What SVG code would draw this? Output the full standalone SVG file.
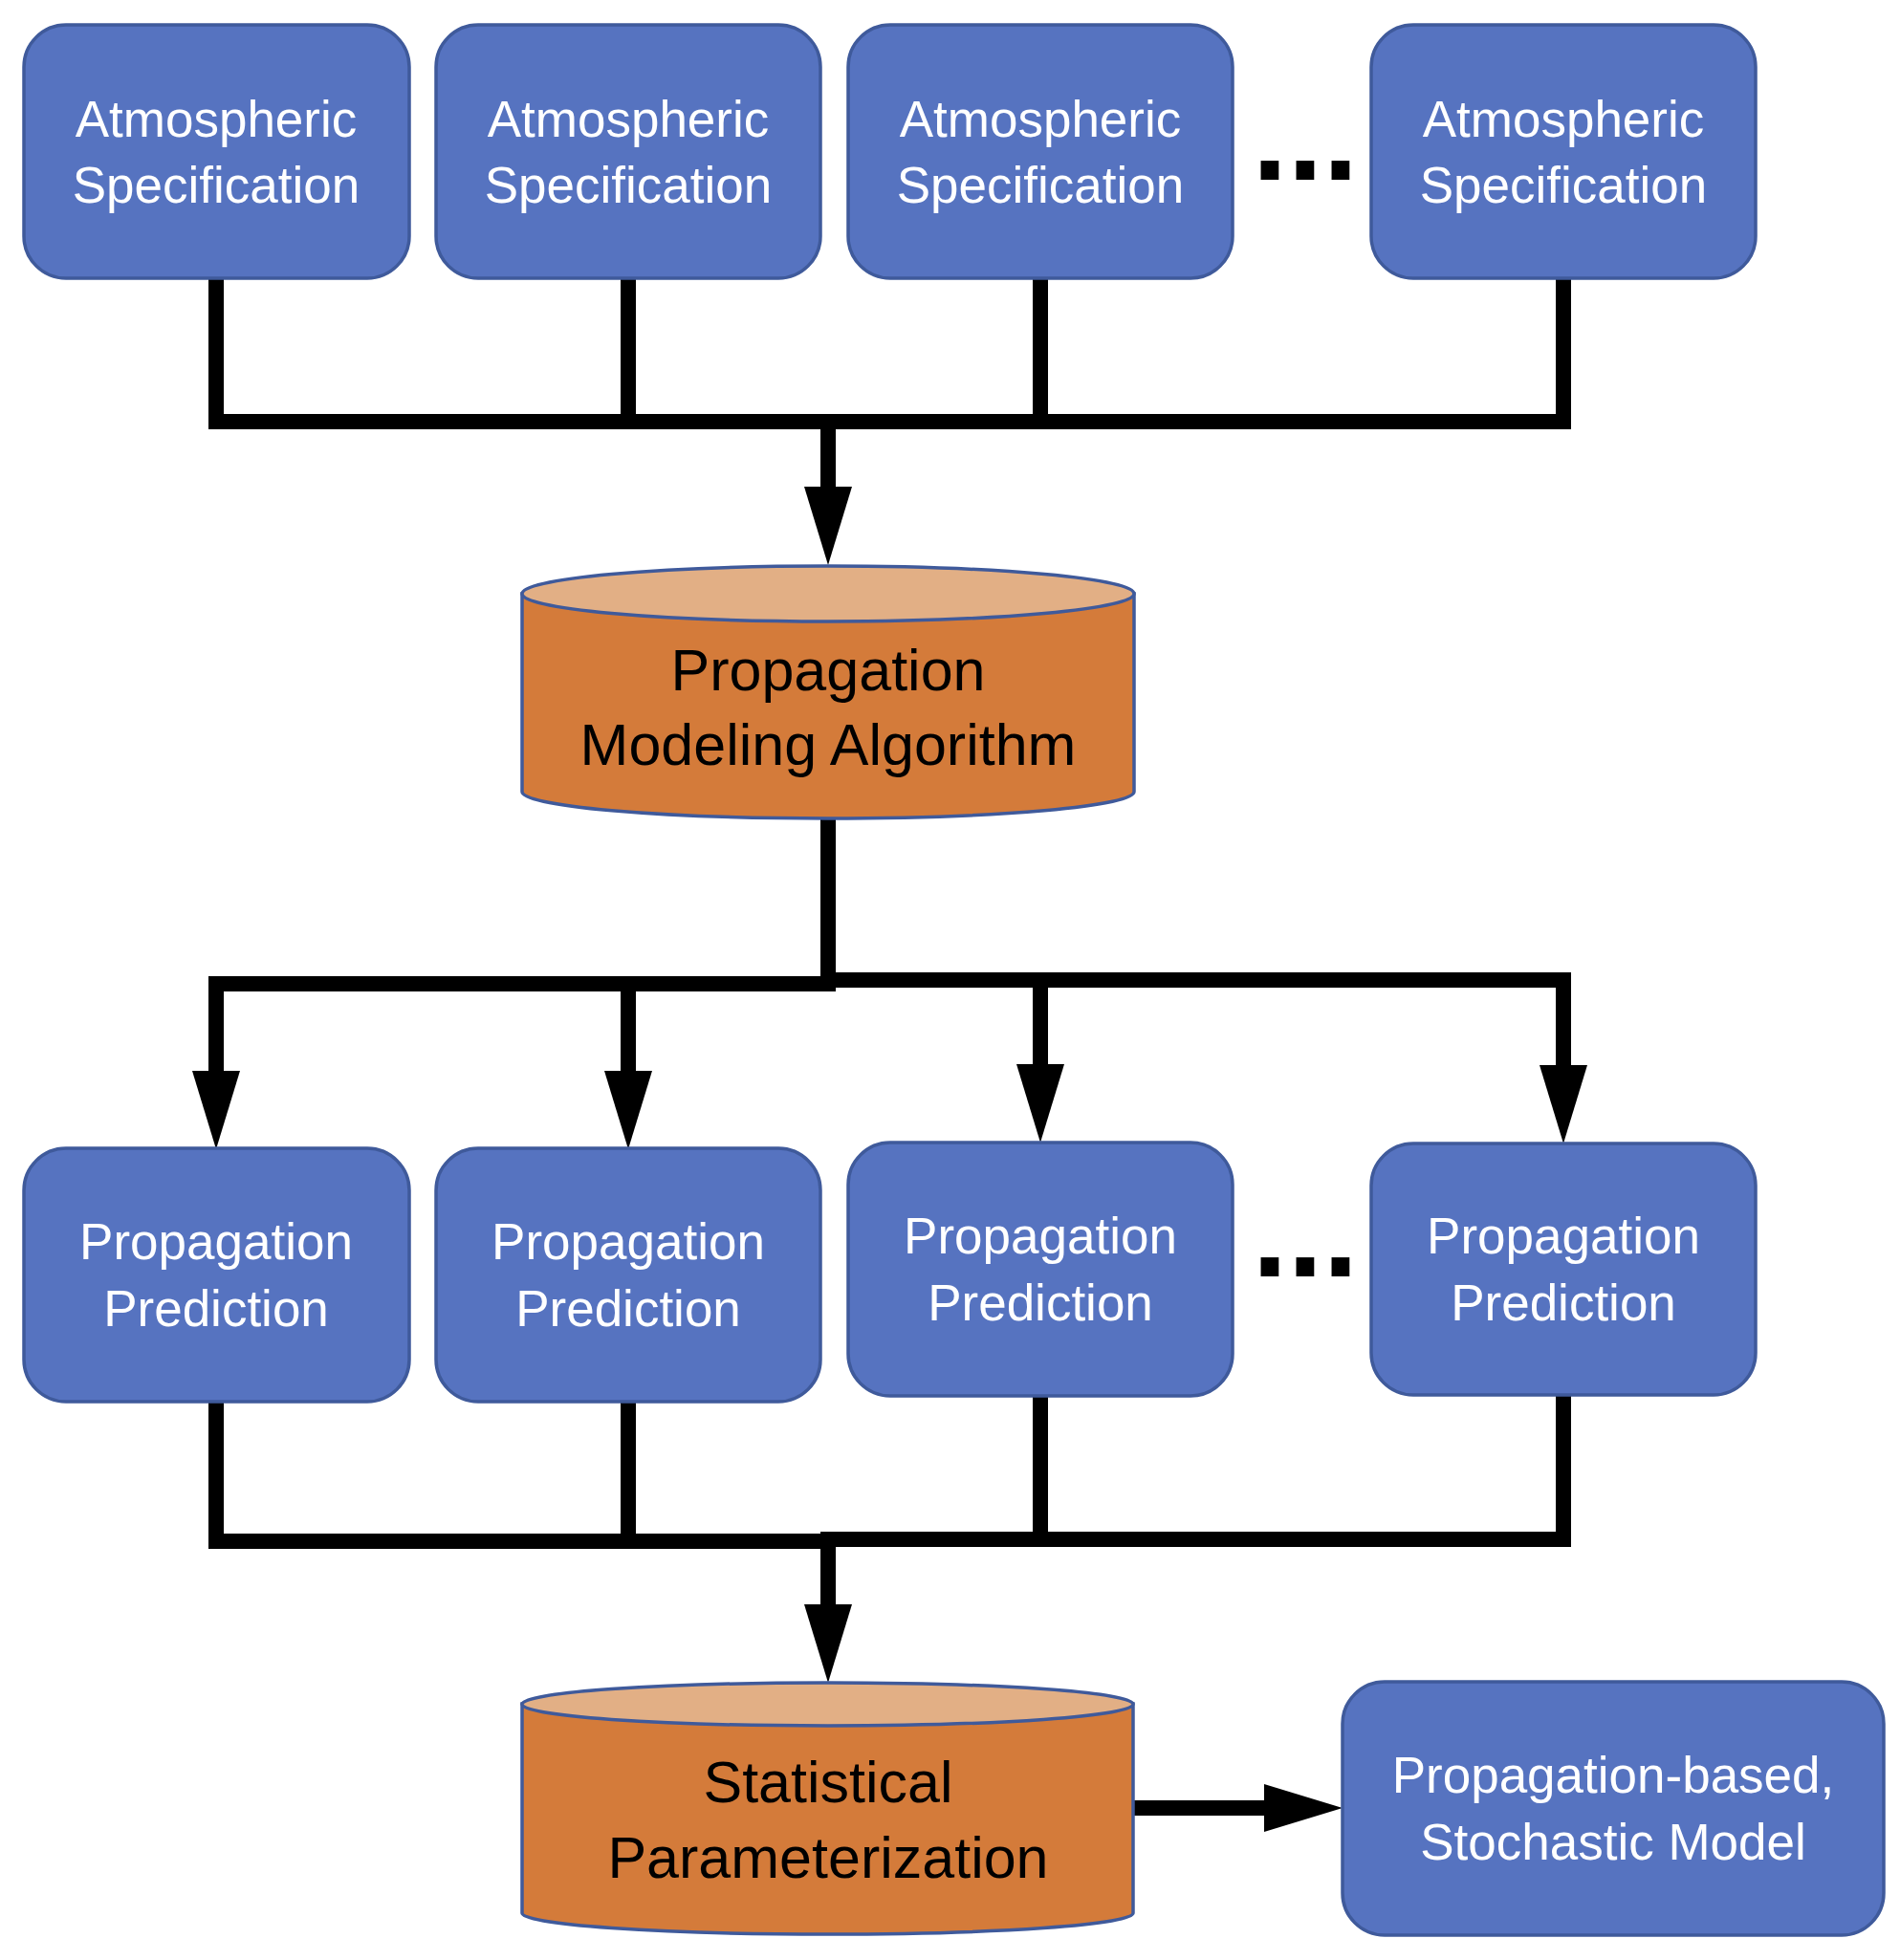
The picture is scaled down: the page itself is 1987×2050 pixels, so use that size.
<svg xmlns="http://www.w3.org/2000/svg" width="1987" height="2050" viewBox="0 0 1987 2050">
<style>
.box{fill:#5673C0;stroke:#3F5A9B;stroke-width:3.5}
.cyl{fill:#D47B3A;stroke:#3F5A9B;stroke-width:3.5}
.cyltop{fill:#E2AF85;stroke:#3F5A9B;stroke-width:3.5}
.wt{font-family:"Liberation Sans",Arial,sans-serif;font-size:53px;fill:#FFFFFF;text-anchor:middle}
.bt{font-family:"Liberation Sans",Arial,sans-serif;font-size:61px;fill:#000000;text-anchor:middle}
.dots{font-family:"Liberation Sans",Arial,sans-serif;font-size:133px;font-weight:bold;fill:#000000;text-anchor:middle}
.ln{fill:none;stroke:#000000;stroke-width:16;stroke-linejoin:miter;stroke-linecap:butt}
</style>
<defs>
<marker id="ah" viewBox="0 0 82 50" markerUnits="userSpaceOnUse" markerWidth="82" markerHeight="50" refX="0" refY="25" orient="auto">
<path d="M0,0 L82,25 L0,50 Z" fill="#000000"/>
</marker>
</defs>
<rect width="1987" height="2050" fill="#FFFFFF"/>
<g id="connectors">
<path class="ln" d="M226,289 V441 H1635 V289"/>
<path class="ln" d="M657,289 V441"/>
<path class="ln" d="M1088,289 V441"/>
<path class="ln" d="M866,441 V509" marker-end="url(#ah)"/>
<path class="ln" d="M866,854 V1029"/>
<path class="ln" d="M226,1120 V1029 H874"/>
<path class="ln" d="M858,1025 H1635 V1113"/>
<path class="ln" d="M226,1029 V1120" marker-end="url(#ah)"/>
<path class="ln" d="M657,1029 V1120" marker-end="url(#ah)"/>
<path class="ln" d="M1088,1025 V1113" marker-end="url(#ah)"/>
<path class="ln" d="M1635,1025 V1114" marker-end="url(#ah)"/>
<path class="ln" d="M226,1464 V1612 H866"/>
<path class="ln" d="M657,1464 V1612"/>
<path class="ln" d="M858,1610 H1635 V1456"/>
<path class="ln" d="M1088,1458 V1610"/>
<path class="ln" d="M866,1610 V1678" marker-end="url(#ah)"/>
<path class="ln" d="M1184,1891 H1322" marker-end="url(#ah)"/>
</g>
<g id="atm1">
<rect class="box" x="25" y="26" width="403" height="265" rx="44"/>
<text class="wt" x="226" y="143">Atmospheric</text>
<text class="wt" x="226" y="212">Specification</text>
</g>
<g id="atm2">
<rect class="box" x="456" y="26" width="402" height="265" rx="44"/>
<text class="wt" x="657" y="143">Atmospheric</text>
<text class="wt" x="657" y="212">Specification</text>
</g>
<g id="atm3">
<rect class="box" x="887" y="26" width="402" height="265" rx="44"/>
<text class="wt" x="1088" y="143">Atmospheric</text>
<text class="wt" x="1088" y="212">Specification</text>
</g>
<g id="dots1">
<text class="dots" x="1365" y="188">...</text>
</g>
<g id="atm4">
<rect class="box" x="1434" y="26" width="402" height="265" rx="44"/>
<text class="wt" x="1635" y="143">Atmospheric</text>
<text class="wt" x="1635" y="212">Specification</text>
</g>
<g id="pma">
<path class="cyl" d="M546,621 V828 A320,28 0 0 0 1186,828 V621 Z"/>
<ellipse class="cyltop" cx="866" cy="621" rx="320" ry="29"/>
<text class="bt" x="866" y="722">Propagation</text>
<text class="bt" x="866" y="800">Modeling Algorithm</text>
</g>
<g id="pred1">
<rect class="box" x="25" y="1201" width="403" height="265" rx="44"/>
<text class="wt" x="226" y="1317">Propagation</text>
<text class="wt" x="226" y="1387">Prediction</text>
</g>
<g id="pred2">
<rect class="box" x="456" y="1201" width="402" height="265" rx="44"/>
<text class="wt" x="657" y="1317">Propagation</text>
<text class="wt" x="657" y="1387">Prediction</text>
</g>
<g id="pred3">
<rect class="box" x="887" y="1195" width="402" height="265" rx="44"/>
<text class="wt" x="1088" y="1311">Propagation</text>
<text class="wt" x="1088" y="1381">Prediction</text>
</g>
<g id="dots2">
<text class="dots" x="1365" y="1335">...</text>
</g>
<g id="pred4">
<rect class="box" x="1434" y="1196" width="402" height="263" rx="44"/>
<text class="wt" x="1635" y="1311">Propagation</text>
<text class="wt" x="1635" y="1381">Prediction</text>
</g>
<g id="stat">
<path class="cyl" d="M546,1782 V2001 A319.5,22 0 0 0 1185,2001 V1782 Z"/>
<ellipse class="cyltop" cx="865.5" cy="1782.5" rx="319.5" ry="22.5"/>
<text class="bt" x="866" y="1885">Statistical</text>
<text class="bt" x="866" y="1964">Parameterization</text>
</g>
<g id="model">
<rect class="box" x="1404" y="1759" width="566" height="265" rx="44"/>
<text class="wt" x="1687" y="1875">Propagation-based,</text>
<text class="wt" x="1687" y="1945">Stochastic Model</text>
</g>
</svg>
